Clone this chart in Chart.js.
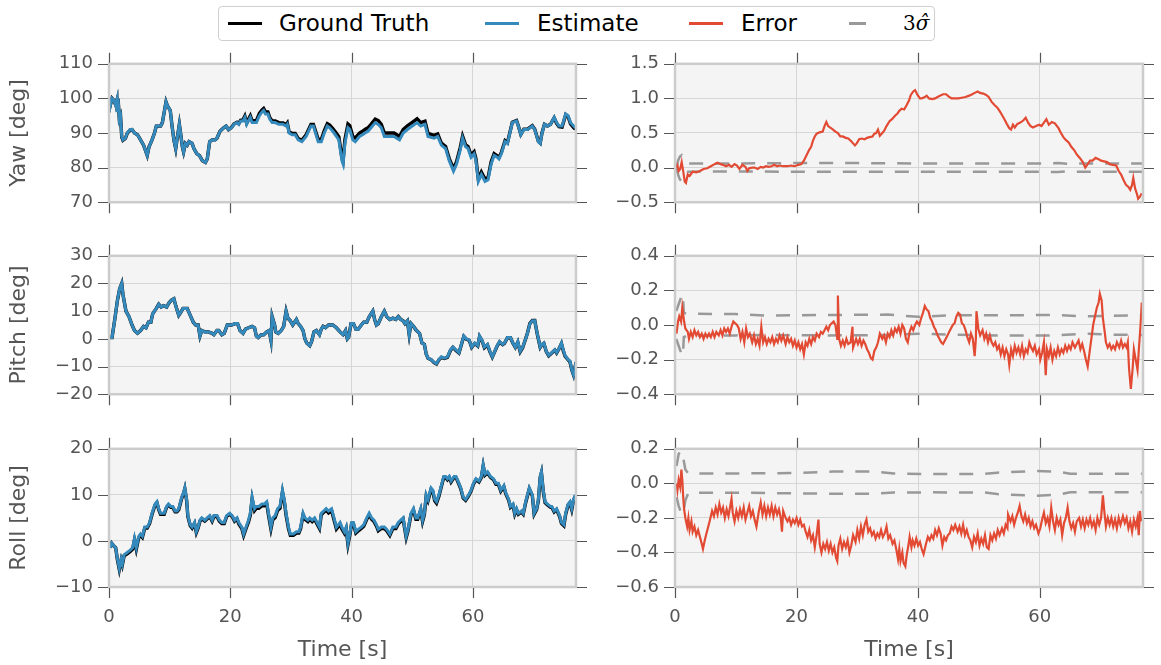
<!DOCTYPE html>
<html>
<head>
<meta charset="utf-8">
<script src="https://cdn.jsdelivr.net/npm/chart.js@4.4.1/dist/chart.umd.min.js"></script>
<style>
  body { margin: 0; background: #fff; width: 1161px; height: 665px; position: relative; overflow: hidden; font-family: "DejaVu Sans", sans-serif; }
  canvas { position: absolute; }
  #legend { position: absolute; left: 218px; top: 6px; width: 715px; height: 33px; border: 1.5px solid #cfcfcf; border-radius: 4px; background: #fff; z-index: 2; }
  .lg-line { position: absolute; top: 15px; height: 2.5px; width: 34px; }
  .lg-text { position: absolute; top: 0; line-height: 33px; font-size: 23px; color: #000; white-space: nowrap; }
</style>
</head>
<body>
<div id="legend">
  <div class="lg-line" style="left:9px;background:#000"></div>
  <span class="lg-text" style="left:60px">Ground Truth</span>
  <div class="lg-line" style="left:266px;background:#348ABD"></div>
  <span class="lg-text" style="left:318px">Estimate</span>
  <div class="lg-line" style="left:470px;background:#E24A33"></div>
  <span class="lg-text" style="left:522px">Error</span>
  <div class="lg-line" style="left:630px;width:17px;background:#999"></div>
  <span class="lg-text" style="left:684px;font-family:'DejaVu Serif';font-size:20px">3<i>σ̂</i></span>
</div>
<canvas id="yaw" width="590" height="192" style="left:0;top:37px"></canvas>
<canvas id="yawErr" width="571" height="192" style="left:590px;top:37px"></canvas>
<canvas id="pitch" width="590" height="192" style="left:0;top:229px"></canvas>
<canvas id="pitchErr" width="571" height="192" style="left:590px;top:229px"></canvas>
<canvas id="roll" width="590" height="243" style="left:0;top:422px"></canvas>
<canvas id="rollErr" width="571" height="243" style="left:590px;top:422px"></canvas>
<script>
// ---- data ----
const xTicks = [0, 20, 40, 60];

const yawTime = [
  0.2,0.3,0.5,0.8,1.1,1.3,1.35,1.5,1.7,1.9,
  2.1,2.3,2.7,3.0,3.5,3.8,4.2,4.7,5.2,5.7,
  6.0,6.3,6.6,7.1,7.5,7.8,8.5,8.8,9.2,9.4,
  9.6,10.1,10.4,10.7,11.0,11.2,11.6,11.8,12.1,12.3,
  12.6,12.9,13.2,13.7,14.0,14.5,14.9,15.4,15.9,16.2,
  16.6,17.0,17.5,17.8,18.3,18.9,19.3,19.7,20.2,20.6,
  21.1,21.4,21.7,22.1,22.4,22.7,23.0,23.3,23.6,24.3,
  24.8,25.2,25.5,25.8,26.2,26.5,26.9,27.4,28.0,28.7,
  29.2,29.4,29.7,30.2,30.7,31.2,31.8,32.5,33.3,33.7,
  34.5,35.0,35.5,36.0,36.4,36.9,37.5,37.9,38.4,38.6,
  38.9,39.4,39.7,40.2,40.6,41.3,41.8,42.2,42.7,43.2,
  43.9,44.4,44.9,45.4,46.0,47.0,47.9,48.5,49.2,50.0,
  50.8,51.4,52.1,52.6,53.6,54.2,54.8,55.5,56.1,56.8,
  57.3,57.9,58.3,58.8,59.2,59.7,60.2,60.5,60.9,61.4,
  62.0,62.5,63.0,63.5,64.0,64.3,64.7,65.3,65.7,66.1,
  66.5,67.2,67.5,67.9,68.4,69.0,69.8,70.2,70.8,71.1,
  71.4,71.8,72.3,72.8,73.4,73.8,74.2,74.7,75.3,75.7,
  76.1,76.6,76.9
];
const yawEstimate = [
  100,98.5,100,99.5,98,99.5,96,100,94,95,
  89,88,88.5,90,91,91,90,89.5,88,86.5,
  85,83.5,86,88,90,92,92,93,97,99,
  98,96.5,92,88,85.5,88,92.5,90,86,84.5,
  87,86.5,87.5,87,85.5,84,83.5,82,81.5,82.5,
  87.5,88,88,88.5,90.5,91.5,92,91,91.5,92.5,
  93,92.5,93.5,93.5,94.5,92.5,93.5,94.5,93,93,
  95,96,96.5,95.5,95.5,94,93,93,92.5,92.5,
  92,92.5,90,89.5,89.5,88,87.5,89,92,92,
  87.5,87.5,90,92,91.5,90.5,89,88,82,81,
  87,91.5,91,88,87.5,89,89.5,90,90.5,91.5,
  93,92.5,91.5,89,89,89,88,90,91,92,
  93,92,92.5,89,88.5,89,86.5,85.5,82,79,
  81,85,88.5,86,85.5,83,84,82,76,78,
  76,76.5,81,83.5,83,82.5,84,87.5,87,90,
  93,93.5,92,89.5,91,91,92,91,87.5,87,
  90,92.5,92,92.5,94.5,93,92,92,95.5,95,
  93,92,91.5
];
const yawTruth = [
  100,98.6,100,99.4,98.1,99.4,96.2,99.9,94.2,95,
  88.8,87.9,88.4,89.9,90.9,91,90,89.5,88,86.5,
  85,83.5,86,88,90,92,92,93,97,99,
  98,96.5,92,88,85.5,88,92.5,90,86,84.5,
  87,86.5,87.5,87,85.5,84,83.5,82,81.5,82.5,
  87.5,88,88,88.5,90.5,91.5,92,91,91.6,92.6,
  93.1,92.7,93.7,93.8,94.9,92.9,94,95,93.5,93.6,
  95.7,96.6,97.1,96.1,96.1,94.5,93.5,93.5,93,92.9,
  92.4,92.9,90.3,89.9,89.9,88.4,87.9,89.5,92.5,92.5,
  88.1,88.1,90.7,92.7,92.3,91.3,89.9,88.9,83,82,
  88.1,92.6,92.1,89,88.5,90,90.5,91,91.5,92.5,
  94,93.6,92.5,90,90,90,89,91,92.1,93.1,
  94.1,93,93.4,89.9,89.3,89.7,87.1,86.1,82.6,79.7,
  81.7,85.7,89.1,86.6,86.1,83.6,84.6,82.6,76.6,78.7,
  76.7,77.1,81.6,84,83.4,82.9,84.4,87.8,87.2,90.2,
  93.1,93.6,92,89.6,91.1,91.1,92.1,91.1,87.6,87.1,
  90.1,92.5,92,92.5,94.4,92.8,91.8,91.7,95.3,94.7,
  92.6,91.6,91.1
];

const pitchTime = [
  0.2,0.5,0.95,1.4,1.75,2.1,2.3,2.8,3.3,3.8,
  4.2,4.7,5.2,5.7,6.1,6.5,6.9,7.2,7.8,8.2,
  8.6,9.0,9.5,9.9,10.3,10.7,11.0,11.5,11.8,12.2,
  12.6,12.9,13.4,13.9,14.3,14.7,15.0,15.3,15.8,16.4,
  17.0,17.3,17.8,18.1,18.6,19.0,19.5,20.2,20.8,21.2,
  21.6,22.1,22.5,23.0,23.6,24.0,24.3,24.6,25.1,25.5,
  26.0,26.4,26.7,26.9,27.3,27.5,27.9,28.4,28.8,29.2,
  29.5,29.9,30.3,30.6,30.9,31.2,31.6,32.0,32.3,32.6,
  33.1,33.4,33.8,34.2,34.7,35.0,35.3,35.7,36.2,36.9,
  37.5,38.1,38.6,39.0,39.3,39.5,39.9,40.3,40.7,41.1,
  41.6,42.0,42.5,42.9,43.2,43.5,43.8,44.1,44.4,44.9,
  45.4,45.8,46.3,46.8,47.3,47.7,48.1,48.5,48.8,49.2,
  49.5,49.8,50.2,50.7,51.2,51.6,52.0,52.3,52.6,53.1,
  53.6,54.0,54.4,54.8,55.3,55.8,56.3,56.7,57.2,57.7,
  58.1,58.5,58.9,59.4,59.8,60.3,60.8,61.1,61.5,61.9,
  62.4,62.8,63.2,63.6,64.0,64.4,64.9,65.2,65.7,66.2,
  66.6,67.0,67.4,67.8,68.2,68.7,69.0,69.4,69.8,70.2,
  70.6,71.1,71.4,71.7,72.1,72.5,73.0,73.5,73.8,74.2,
  74.6,74.9,75.2,75.7,76.0,76.3,76.6,76.8,77.0
];
const pitchEstimate = [
  0.5,0.5,7,14,18,20,16,10,8,5,
  3,2,3,4.5,4,6,6,9,11,12.5,
  11.5,12,11.5,13,14,14.5,12,8.5,9.5,11,
  11,11,8.5,6,5,5,1,3,2.5,2.5,
  2,1.5,3,3,1.5,2,5,5,5.5,5.5,
  3,2,3.5,4,4.5,4,1,0.5,1.5,1.5,
  2.5,3,-0.5,8,5,2.5,2,3,4.5,10,
  7.5,6.5,5,6,7,5.5,4.5,3,0,-1.5,
  -2.5,-1,2.5,3,1.5,3.5,4.5,4,5,5,
  4,2.5,1.5,3,0,0.5,5.5,5.5,3.5,3.5,
  5,6,6,8,9,10,7,5,5.5,8,
  10,8,7,7.5,7,8,7,6.5,5.5,6.5,
  1.5,5.5,4.5,3,2,-1.5,-2,-5.5,-7,-7.5,
  -8.5,-9,-7.5,-6.5,-7,-6.5,-4,-3,-4,-5,
  -2,1,0,-0.5,-3,-1.5,-2.5,1,-0.5,-3,
  -2,-4.5,-6.5,-4.5,-2.5,-1,-2,-1.5,0.5,0.5,
  -1.5,-3,-1,-4.5,-3,0,2,5.5,6.5,6.5,
  2,-3,-2,-1.5,-4.5,-6,-5,-4,-5,-3.5,
  -1.5,-4,-6,-7.5,-8,-11,-13,-11,-8.5
];
const pitchTruth = [
  0.5,0.5,7,14,18,20,16,10,8,5,
  3,2,3,4.5,4,6,6,9,11,12.5,
  11.5,12,11.5,13,14,14.5,12,8.5,9.5,11,
  11,11,8.5,6,5,5,1,3,2.5,2.5,
  2,1.5,3,3,1.5,2,5,5,5.5,5.5,
  3,2,3.5,4,4.5,4,1,0.5,1.5,1.5,
  2.5,3,-0.5,8,5,2.5,2,3,4.5,10,
  7.5,6.5,5,6,7,5.5,4.5,3,0,-1.5,
  -2.5,-1,2.5,3,1.5,3.5,4.5,4,5,5,
  4,2.5,1.5,3,0,0.5,5.5,5.5,3.5,3.5,
  5,6,6,8,9,10,7,5,5.5,8,
  10,8,7,7.5,7,8,7,6.5,5.5,6.5,
  1.5,5.5,4.5,3,2,-1.5,-2,-5.5,-7,-7.5,
  -8.6,-9.1,-7.6,-6.7,-7.1,-6.7,-4.2,-3.1,-4.2,-5.1,
  -2.1,0.9,-0.1,-0.6,-3.1,-1.7,-2.6,0.8,-0.7,-3.2,
  -2.2,-4.6,-6.6,-4.6,-2.6,-1.1,-2.1,-1.6,0.4,0.4,
  -1.6,-3.1,-1.2,-4.7,-3.2,0,2.1,5.6,6.6,6.6,
  1.9,-3.1,-2.1,-1.6,-4.6,-6.1,-5.1,-4.1,-5.1,-3.6,
  -1.7,-4.3,-6.3,-7.6,-8.3,-11.2,-13.1,-11,-8.4
];

const rollTime = [
  0.2,0.45,0.75,1.1,1.4,1.7,2.0,2.2,2.5,3.0,
  3.5,3.9,4.2,4.5,4.9,5.2,5.5,5.9,6.3,6.7,
  7.1,7.6,7.9,8.2,8.5,8.8,9.1,9.5,9.8,10.2,
  10.5,10.9,11.2,11.5,12.0,12.3,12.5,12.8,13.0,13.4,
  13.7,14.1,14.4,14.7,15.0,15.3,15.8,16.2,16.6,17.0,
  17.3,17.8,18.2,18.6,19.0,19.4,19.9,20.3,20.7,21.1,
  21.4,21.9,22.2,22.6,23.0,23.3,23.6,24.0,24.3,24.7,
  25.2,25.6,26.0,26.3,26.7,27.0,27.4,27.8,28.2,28.6,
  28.9,29.2,29.6,29.9,30.4,30.9,31.3,31.6,32.0,32.3,
  32.8,33.1,33.5,33.9,34.3,34.7,35.0,35.4,35.8,36.2,
  36.7,37.1,37.5,37.8,38.1,38.4,38.8,39.1,39.4,39.7,
  40.0,40.3,40.7,41.1,41.6,42.0,42.5,42.9,43.3,43.7,
  44.1,44.4,44.9,45.4,45.8,46.3,46.8,47.3,47.7,48.1,
  48.5,49.0,49.3,49.8,50.2,50.6,50.9,51.4,51.7,52.0,
  52.3,52.6,53.1,53.4,53.7,54.0,54.4,54.8,55.2,55.5,
  55.8,56.1,56.4,56.9,57.2,57.7,58.0,58.4,58.8,59.3,
  59.7,60.1,60.5,61.0,61.4,61.7,62.0,62.4,62.9,63.4,
  63.8,64.2,64.6,65.1,65.4,65.9,66.2,66.6,66.9,67.2,
  67.5,68.0,68.3,68.7,69.0,69.3,69.8,70.1,70.5,70.8,
  71.1,71.3,71.6,71.9,72.3,72.8,73.0,73.4,73.8,74.3,
  74.6,75.0,75.3,75.7,76.0,76.3,76.6,76.9
];
const rollEstimate = [
  -1.5,-0.5,-1,-1.5,-4,-6,-4,-5,-3,-2.5,
  -2,-1.5,0.5,-1.5,1,1.5,1,3,3,4,
  6,8,8.5,7,6,6,6,7.5,8,7.5,
  7.5,6.5,6.5,7,9.5,10.5,11.5,9,5.5,3.5,
  3,4,2,3,4.5,5,4.5,5,5.5,4.5,
  5.5,5.5,4.5,4,4,5.5,6,5.5,4.5,5,
  4,3,1.5,3,4.5,6,9.5,7,7.5,7.5,
  8,8,8.5,6,3,5,5.5,7,7.5,11,
  9,6,3,1.5,1.5,2,2,3,6,5,
  4.5,5,4.5,5,4,3,6,6.5,7,6.5,
  7,5,3,3.5,4,3,2,3,-0.5,1.5,
  4,4,2,2.5,3,3.5,5,6,5,4.5,
  3.5,2.5,3,3,2.5,1.5,3,3,4,4.5,
  5,1,2.5,6,7,5,5,7,4.5,6,
  10,9,11.5,11,9,8.5,10,12,14,14,
  13.5,14,13,14,14,12.5,11.5,9.5,9,10,
  11,12.5,13.5,13,14,16.5,14.5,15,14,13.5,
  12.5,12.5,11,12,10.5,9,7.5,8,6,7,
  6,6.5,6,8.5,10,11.5,10,6,7,9,
  14,15,11,8.5,8,7.5,7.5,6.5,7,5.5,
  4,3.5,6,8,8.5,7,9,10
];
const rollTruth = [
  -1.5,-0.5,-1,-1.5,-4.2,-6.2,-4.2,-5.2,-3.2,-2.8,
  -2.3,-1.8,0.2,-1.8,0.7,1.2,0.75,2.8,2.8,3.8,
  5.8,7.8,8.3,6.8,5.8,5.8,5.8,7.3,7.8,7.3,
  7.3,6.3,6.3,6.8,9.3,10.3,11.3,8.8,5.3,3.3,
  2.8,3.8,1.8,2.8,4.3,4.8,4.3,4.8,5.3,4.3,
  5.3,5.3,4.3,3.8,3.8,5.3,5.8,5.3,4.3,4.8,
  3.7,2.7,1.2,2.7,4.1,5.6,9.1,6.6,7.1,7.1,
  7.6,7.6,8.1,5.6,2.6,4.6,5.1,6.6,7.1,10.6,
  8.6,5.6,2.6,1.2,1.2,1.7,1.7,2.7,5.7,4.7,
  4.2,4.7,4.2,4.7,3.7,2.7,5.7,6.2,6.7,6.1,
  6.6,4.6,2.6,3.1,3.6,2.6,1.7,2.7,-0.8,1.2,
  3.7,3.7,1.7,2.2,2.7,3.2,4.7,5.7,4.7,4.2,
  3.2,2.2,2.7,2.7,2.2,1.2,2.7,2.7,3.7,4.2,
  4.7,0.7,2.2,5.7,6.7,4.7,4.7,6.7,4.2,5.7,
  9.7,8.7,11.2,10.7,8.7,8.2,9.7,11.8,13.8,13.8,
  13.3,13.8,12.8,13.8,13.8,12.3,11.3,9.3,8.8,9.8,
  10.8,12.3,13.3,12.8,13.8,16.3,14.3,14.8,13.8,13.3,
  12.3,12.3,10.8,11.8,10.3,8.8,7.3,7.8,5.8,6.8,
  5.8,6.3,5.8,8.3,9.8,11.3,9.8,5.8,6.8,8.8,
  13.8,14.8,10.8,8.3,7.8,7.3,7.3,6.3,6.8,5.3,
  3.8,3.3,5.8,7.8,8.3,6.8,8.8,9.8
];

const yawErrTime = [
  0.25,0.4,0.6,0.85,1.1,1.35,1.6,1.8,2.1,2.4,
  2.9,3.5,4.1,4.7,5.3,5.9,6.5,7.0,7.5,7.9,
  8.4,8.9,9.3,9.8,10.2,10.6,11.1,11.6,11.9,12.2,
  12.7,13.1,13.6,14.1,14.5,15.0,15.4,15.9,16.3,16.8,
  17.2,17.8,18.5,19.1,19.7,20.3,20.8,21.2,21.6,22.1,
  22.4,22.7,23.0,23.3,23.8,24.3,24.6,24.9,25.2,25.5,
  26.0,26.4,26.8,27.2,27.6,28.1,28.5,29.0,29.3,29.6,
  29.9,30.3,30.7,31.2,31.6,32.0,32.5,32.8,33.1,33.4,
  33.7,34.1,34.4,34.8,35.3,35.7,36.2,36.6,36.9,37.3,
  37.7,38.1,38.5,38.8,39.2,39.5,39.9,40.3,40.6,41.1,
  41.4,41.8,42.3,42.8,43.2,43.6,44.1,44.6,45.0,45.5,
  46.0,46.6,47.2,47.8,48.4,48.9,49.3,49.8,50.2,50.7,
  51.2,51.6,52.1,52.6,53.0,53.4,53.8,54.2,54.6,55.0,
  55.3,55.6,55.9,56.3,56.8,57.3,57.7,58.1,58.5,58.9,
  59.4,59.9,60.3,60.7,61.1,61.5,62.0,62.5,63.1,63.5,
  63.9,64.3,64.8,65.2,65.7,66.1,66.6,67.1,67.5,67.9,
  68.3,68.7,69.2,69.7,70.1,70.6,71.1,71.5,72.0,72.6,
  73.0,73.4,73.8,74.2,74.6,74.9,75.2,75.4,75.7,76.0,
  76.2,76.5,76.8
];
const yawError = [
  0,0.03,-0.05,-0.02,0.08,-0.05,-0.2,-0.22,-0.1,-0.12,
  -0.06,-0.07,-0.05,-0.02,-0.01,0.02,0.05,0.07,0.05,0.04,
  0.02,0.04,0.01,0.05,0.03,-0.02,0.04,0.01,-0.05,-0.01,
  0,0,-0.02,0.01,0,0.02,0.01,0.02,0.04,0.02,
  0.03,0.02,0.02,0.03,0.02,0.04,0.05,0.1,0.17,0.26,
  0.3,0.39,0.45,0.49,0.51,0.52,0.6,0.66,0.6,0.58,
  0.55,0.52,0.5,0.45,0.45,0.43,0.42,0.38,0.35,0.32,
  0.35,0.41,0.42,0.41,0.43,0.44,0.45,0.49,0.5,0.55,
  0.46,0.5,0.53,0.6,0.67,0.7,0.75,0.78,0.82,0.85,
  0.84,0.9,0.97,1.05,1.1,1.12,1.05,1.0,1.0,1.02,
  1.04,1.0,0.99,1.0,1.02,1.04,1.06,1.06,1.03,1.0,
  1.0,1.0,1.01,1.02,1.04,1.06,1.08,1.1,1.08,1.07,
  1.05,1.02,0.95,0.9,0.87,0.82,0.76,0.7,0.63,0.57,
  0.55,0.62,0.58,0.63,0.65,0.68,0.72,0.65,0.6,0.58,
  0.6,0.62,0.6,0.65,0.7,0.62,0.66,0.64,0.57,0.5,
  0.44,0.4,0.36,0.3,0.25,0.19,0.14,0.08,0.0,0.05,
  0.1,0.1,0.14,0.12,0.1,0.09,0.08,0.05,0.04,0.03,
  -0.05,-0.1,-0.18,-0.25,-0.28,-0.32,-0.25,-0.15,-0.3,-0.38,
  -0.45,-0.42,-0.37
];
const yawSigmaTime = [0.25,0.5,0.8,1.1,1.4,1.8,2.2,5,10,20,30,40,50,60,63,64.5,66,70,77];
const yawSigmaUpper = [0,0.1,0.16,0.18,0.12,0.07,0.06,0.06,0.06,0.065,0.065,0.06,0.06,0.06,0.065,0.055,0.06,0.06,0.06];
const yawSigmaLower = [0,-0.1,-0.17,-0.2,-0.13,-0.07,-0.06,-0.055,-0.055,-0.06,-0.06,-0.06,-0.06,-0.06,-0.065,-0.055,-0.06,-0.06,-0.06];

const pitchErrTime = [
  0.25,0.5,0.7,1.0,1.2,1.5,1.7,2.1,2.3,2.6,
  2.9,3.2,3.5,3.8,4.1,4.4,4.7,5.0,5.3,5.6,
  5.9,6.2,6.5,6.8,7.2,7.5,7.8,8.1,8.4,8.7,
  9.0,9.3,9.6,9.9,10.2,10.5,10.8,11.1,11.4,11.7,
  12.0,12.3,12.7,13.0,13.3,13.6,13.9,14.2,14.5,14.8,
  15.1,15.4,15.7,16.0,16.3,16.6,16.9,17.2,17.5,17.8,
  18.2,18.5,18.8,19.1,19.4,19.7,20.0,20.3,20.6,20.9,
  21.2,21.5,21.8,22.1,22.4,22.7,23.0,23.3,23.7,24.0,
  24.3,24.6,24.9,25.2,25.5,25.8,26.1,26.4,26.7,26.8,
  27.0,27.3,27.6,27.9,28.2,28.5,28.9,29.2,29.3,29.8,
  30.1,30.4,30.7,31.0,31.3,31.6,31.9,32.2,32.5,32.8,
  33.1,33.4,33.7,34.1,34.4,34.7,35.0,35.3,35.6,35.9,
  36.2,36.5,36.8,37.1,37.4,37.7,38.0,38.3,38.6,38.9,
  39.2,39.5,39.8,40.2,40.5,40.8,41.1,41.4,41.7,42.0,
  42.3,42.6,42.9,43.2,43.5,43.8,44.1,44.4,44.7,45.1,
  45.4,45.7,46.0,46.3,46.6,46.9,47.2,47.5,47.8,48.1,
  48.4,48.7,49.0,49.3,49.5,49.6,49.9,50.2,50.6,50.9,
  51.2,51.5,51.8,52.1,52.4,52.7,53.0,53.3,53.6,53.9,
  54.2,54.5,54.8,55.0,55.3,55.6,55.9,56.2,56.5,56.8,
  57.1,57.4,57.7,58.0,58.3,58.6,58.9,59.2,59.5,59.9,
  60.1,60.4,60.7,61.0,61.2,61.5,61.8,62.1,62.4,62.7,
  63.0,63.3,63.6,63.9,64.2,64.5,64.8,65.1,65.4,65.8,
  66.1,66.4,66.7,67.0,67.3,67.6,67.9,68.2,68.5,68.8,
  69.1,69.4,69.7,69.9,70.2,70.4,70.7,70.9,71.2,71.5,
  71.8,72.1,72.4,72.7,73.1,73.4,73.7,74.0,74.3,74.5,
  74.7,75.0,75.3,75.5,75.8,76.1,76.3,76.6,76.8
];
const pitchError = [
  -0.05,0.02,0.05,0.02,0.1,0.02,-0.02,-0.04,-0.08,-0.04,
  -0.07,-0.03,-0.06,-0.04,-0.07,-0.05,-0.08,-0.05,-0.07,-0.05,
  -0.07,-0.04,-0.07,-0.04,-0.06,-0.03,-0.06,-0.02,-0.04,-0.02,
  -0.05,-0.01,0.02,0.01,0,-0.02,-0.08,-0.04,-0.1,-0.02,
  -0.07,-0.05,-0.1,-0.06,-0.11,-0.08,-0.12,-0.01,-0.1,-0.07,
  -0.11,-0.08,-0.1,-0.07,-0.11,-0.08,-0.1,-0.06,-0.09,-0.06,
  -0.11,-0.07,-0.1,-0.08,-0.12,-0.09,-0.13,-0.1,-0.14,-0.11,
  -0.17,-0.1,-0.12,-0.08,-0.11,-0.07,-0.09,-0.05,-0.07,-0.04,
  -0.05,-0.03,-0.01,-0.03,0,0.01,0.02,0,-0.08,0.17,
  -0.08,-0.12,-0.09,-0.12,-0.08,-0.11,-0.1,-0.01,-0.13,-0.08,
  -0.11,-0.08,-0.12,-0.09,-0.11,-0.14,-0.16,-0.19,-0.2,-0.15,
  -0.13,-0.1,-0.05,-0.08,-0.06,-0.1,-0.05,-0.07,-0.03,-0.06,
  -0.02,-0.04,-0.01,-0.05,0,-0.02,-0.08,-0.1,-0.04,-0.01,
  -0.03,0,0.02,0,0.04,0.07,0.11,0.09,0.08,0.04,
  0.02,-0.01,-0.03,-0.06,-0.08,-0.1,-0.11,-0.09,-0.07,-0.04,
  -0.02,0,0.01,0.05,0.07,0.06,0.01,0,-0.03,-0.07,
  -0.1,-0.05,-0.08,-0.18,-0.08,0.08,-0.02,-0.06,-0.03,-0.08,
  -0.05,-0.1,-0.06,-0.1,-0.12,-0.1,-0.14,-0.12,-0.17,-0.13,
  -0.18,-0.14,-0.17,-0.23,-0.14,-0.18,-0.12,-0.16,-0.13,-0.17,
  -0.12,-0.18,-0.14,-0.16,-0.1,-0.13,-0.15,-0.12,-0.17,-0.14,
  -0.2,-0.16,-0.1,-0.29,-0.14,-0.18,-0.13,-0.2,-0.15,-0.18,
  -0.13,-0.17,-0.14,-0.16,-0.12,-0.15,-0.12,-0.14,-0.1,-0.13,
  -0.11,-0.09,-0.14,-0.11,-0.15,-0.2,-0.24,-0.16,-0.08,0,
  0.05,0.1,0.13,0.18,0.14,0.04,-0.04,-0.1,-0.13,-0.11,
  -0.14,-0.12,-0.14,-0.1,-0.13,-0.09,-0.13,-0.11,-0.13,-0.1,
  -0.25,-0.37,-0.25,-0.14,-0.2,-0.26,-0.15,0,0.13
];
const pitchSigmaTime = [0.2,0.6,1.0,1.3,1.45,2,10,15,25,35,40,45,55,62,68,72,77];
const pitchSigmaUpper = [0.08,0.12,0.16,0.18,0.07,0.065,0.063,0.055,0.058,0.06,0.047,0.056,0.056,0.058,0.05,0.054,0.056];
const pitchSigmaLower = [-0.08,-0.12,-0.16,-0.18,-0.07,-0.06,-0.06,-0.058,-0.06,-0.058,-0.05,-0.056,-0.061,-0.061,-0.05,-0.056,-0.058];

const rollErrTime = [
  0.25,0.4,0.6,0.85,1.05,1.2,1.35,1.5,1.7,2.0,
  2.2,2.4,2.7,2.9,3.2,3.5,3.8,4.1,4.4,4.6,
  4.9,5.1,5.4,5.7,6.1,6.4,6.7,7.0,7.3,7.6,
  7.9,8.2,8.5,8.8,9.1,9.3,9.5,9.8,10.1,10.4,
  10.7,11.0,11.3,11.6,11.9,12.2,12.5,12.8,13.1,13.4,
  13.8,14.1,14.4,14.7,15.0,15.3,15.6,15.9,16.2,16.5,
  16.8,17.1,17.4,17.6,17.8,18.2,18.5,18.8,19.1,19.4,
  19.7,20.0,20.3,20.6,20.9,21.2,21.5,21.8,22.1,22.4,
  22.7,23.0,23.3,23.6,23.8,24.1,24.4,24.7,25.0,25.3,
  25.6,25.9,26.2,26.5,26.7,26.9,27.2,27.5,27.8,28.1,
  28.4,28.7,29.0,29.3,29.7,30.0,30.3,30.6,30.9,31.2,
  31.5,31.8,32.1,32.4,32.7,33.0,33.3,33.6,33.9,34.2,
  34.5,34.8,35.1,35.4,35.8,36.1,36.4,36.7,36.9,37.1,
  37.4,37.6,37.9,38.1,38.4,38.6,38.9,39.1,39.4,39.7,
  40.0,40.3,40.6,40.9,41.3,41.6,41.9,42.2,42.5,42.8,
  43.1,43.4,43.7,44.0,44.3,44.6,44.9,45.2,45.5,45.8,
  46.1,46.5,46.8,47.1,47.4,47.7,48.0,48.3,48.6,48.9,
  49.2,49.5,49.8,50.1,50.4,50.7,51.0,51.3,51.6,51.9,
  52.2,52.5,52.8,53.1,53.4,53.8,54.1,54.4,54.7,54.8,
  55.2,55.5,55.8,56.1,56.4,56.7,57.0,57.3,57.6,57.9,
  58.2,58.5,58.8,59.1,59.4,59.8,60.1,60.4,60.7,61.0,
  61.3,61.6,61.9,62.2,62.5,62.8,63.1,63.4,63.7,64.0,
  64.3,64.6,64.9,65.2,65.5,65.8,66.1,66.5,66.8,67.1,
  67.4,67.7,68.0,68.3,68.6,68.9,69.2,69.5,69.8,70.1,
  70.4,70.6,70.9,71.2,71.5,71.8,72.1,72.4,72.7,73.0,
  73.3,73.7,74.0,74.3,74.6,74.9,75.2,75.5,75.8,76.1,
  76.3,76.5,76.7
];
const rollError = [
  0,-0.04,0.02,-0.02,0.08,0.02,-0.08,-0.15,-0.2,-0.25,
  -0.2,-0.27,-0.22,-0.28,-0.25,-0.3,-0.27,-0.31,-0.35,-0.38,
  -0.33,-0.3,-0.26,-0.22,-0.16,-0.19,-0.14,-0.18,-0.12,-0.17,
  -0.14,-0.2,-0.15,-0.19,-0.13,-0.09,-0.17,-0.22,-0.16,-0.2,
  -0.15,-0.19,-0.14,-0.21,-0.17,-0.13,-0.19,-0.16,-0.21,-0.25,
  -0.16,-0.11,-0.18,-0.13,-0.19,-0.14,-0.18,-0.13,-0.19,-0.14,
  -0.18,-0.15,-0.2,-0.28,-0.16,-0.2,-0.22,-0.2,-0.24,-0.21,
  -0.23,-0.2,-0.24,-0.21,-0.25,-0.24,-0.28,-0.31,-0.27,-0.33,
  -0.3,-0.37,-0.3,-0.21,-0.35,-0.4,-0.35,-0.38,-0.34,-0.39,
  -0.35,-0.4,-0.37,-0.43,-0.45,-0.36,-0.32,-0.38,-0.34,-0.37,
  -0.33,-0.4,-0.36,-0.3,-0.34,-0.27,-0.32,-0.25,-0.3,-0.24,
  -0.21,-0.28,-0.26,-0.3,-0.28,-0.32,-0.29,-0.31,-0.27,-0.31,
  -0.29,-0.25,-0.32,-0.3,-0.35,-0.33,-0.38,-0.44,-0.38,-0.45,
  -0.4,-0.46,-0.48,-0.42,-0.36,-0.31,-0.37,-0.33,-0.36,-0.32,
  -0.36,-0.34,-0.38,-0.41,-0.35,-0.31,-0.33,-0.3,-0.32,-0.27,
  -0.3,-0.26,-0.29,-0.36,-0.31,-0.33,-0.3,-0.29,-0.25,-0.27,
  -0.24,-0.28,-0.25,-0.29,-0.24,-0.3,-0.27,-0.31,-0.33,-0.37,
  -0.31,-0.34,-0.29,-0.36,-0.32,-0.35,-0.3,-0.37,-0.38,-0.3,
  -0.33,-0.29,-0.32,-0.27,-0.3,-0.26,-0.29,-0.24,-0.26,-0.18,
  -0.22,-0.19,-0.24,-0.2,-0.17,-0.13,-0.19,-0.22,-0.18,-0.23,
  -0.2,-0.25,-0.22,-0.26,-0.24,-0.29,-0.26,-0.21,-0.17,-0.23,
  -0.2,-0.25,-0.14,-0.22,-0.27,-0.2,-0.24,-0.21,-0.3,-0.23,
  -0.2,-0.14,-0.22,-0.26,-0.23,-0.28,-0.22,-0.2,-0.25,-0.21,
  -0.26,-0.21,-0.24,-0.2,-0.25,-0.22,-0.27,-0.2,-0.24,-0.2,
  -0.07,-0.15,-0.25,-0.2,-0.24,-0.2,-0.25,-0.21,-0.26,-0.2,
  -0.24,-0.19,-0.23,-0.2,-0.26,-0.22,-0.28,-0.21,-0.25,-0.2,
  -0.3,-0.16,-0.22
];
const rollSigmaTime = [0.25,0.6,1.0,1.35,1.7,2.2,10,20,26,33,36,42,51,53,59.4,63,65,70,77];
const rollSigmaUpper = [0.1,0.17,0.19,0.15,0.08,0.057,0.057,0.06,0.068,0.068,0.057,0.054,0.055,0.062,0.072,0.068,0.055,0.056,0.056];
const rollSigmaLower = [-0.08,-0.13,-0.17,-0.18,-0.1,-0.055,-0.054,-0.058,-0.06,-0.06,-0.053,-0.052,-0.053,-0.062,-0.072,-0.066,-0.052,-0.052,-0.052];

const yawTicks = [70, 80, 90, 100, 110];
const pitchTicks = [-20, -10, 0, 10, 20, 30];
const rollTicks = [-10, 0, 10, 20];
const yawErrTicks = [-0.5, 0, 0.5, 1.0, 1.5];
const pitchErrTicks = [-0.4, -0.2, 0, 0.2, 0.4];
const rollErrTicks = [-0.6, -0.4, -0.2, 0, 0.2];

// ---- styling ----
const BLUE = '#348ABD', RED = '#E24A33', GRAY = '#999999', TXT = '#555555';
Chart.defaults.font.family = "'DejaVu Sans'";

function pts(times, values) {
  return times.map((t, i) => ({ x: t, y: values[i] }));
}

function fmt(decimals) {
  return v => (v < 0 ? '\u2212' : '') + Math.abs(v).toFixed(decimals);
}

// background, frame and outward tick marks like the matplotlib axes
const axesPlugin = {
  id: 'axesFrame',
  beforeDraw(chart) {
    const a = chart.chartArea, ctx = chart.ctx;
    ctx.save();
    ctx.fillStyle = '#f4f4f4';
    ctx.fillRect(a.left, a.top, a.right - a.left, a.bottom - a.top);
    ctx.restore();
  },
  afterDraw(chart) {
    const a = chart.chartArea, ctx = chart.ctx;
    const xs = chart.scales.x, ys = chart.scales.y;
    ctx.save();
    ctx.strokeStyle = '#cccccc';
    ctx.lineWidth = 2.5;
    ctx.strokeRect(a.left, a.top, a.right - a.left, a.bottom - a.top);
    ctx.strokeStyle = TXT;
    ctx.lineWidth = 1.2;
    ctx.beginPath();
    xs.ticks.forEach(t => {
      const p = Math.round(xs.getPixelForValue(t.value)) + 0.5;
      ctx.moveTo(p, a.top - 1); ctx.lineTo(p, a.top - 11);
      ctx.moveTo(p, a.bottom + 1); ctx.lineTo(p, a.bottom + 11);
    });
    ys.ticks.forEach(t => {
      const p = Math.round(ys.getPixelForValue(t.value)) + 0.5;
      ctx.moveTo(a.left - 1, p); ctx.lineTo(a.left - 11, p);
      ctx.moveTo(a.right + 1, p); ctx.lineTo(a.right + 11, p);
    });
    ctx.stroke();
    ctx.restore();
  }
};

function makeChart(id, cfg) {
  const left = cfg.column === 0;
  return new Chart(document.getElementById(id), {
    type: 'line',
    data: { datasets: cfg.datasets },
    options: {
      responsive: false,
      animation: false,
      events: [],
      layout: { padding: { top: 19, right: left ? 14 : 18, left: 0, bottom: 0 } },
      plugins: { legend: { display: false }, tooltip: { enabled: false } },
      elements: { point: { radius: 0 }, line: { tension: 0 } },
      scales: {
        x: {
          type: 'linear', min: 0, max: 77,
          afterBuildTicks: s => { s.ticks = xTicks.map(v => ({ value: v })); },
          afterFit: s => { s.height = cfg.bottom ? 78 : 12; },
          grid: { color: '#d6d6d6', lineWidth: 1, drawTicks: false },
          border: { display: false },
          ticks: { display: !!cfg.bottom, color: TXT, font: { size: 18 }, padding: 20, maxRotation: 0 },
          title: { display: !!cfg.bottom, text: 'Time [s]', color: TXT, font: { size: 22 }, padding: { top: 0, bottom: 2 } }
        },
        y: {
          type: 'linear', min: cfg.ticks[0], max: cfg.ticks[cfg.ticks.length - 1],
          afterBuildTicks: s => { s.ticks = cfg.ticks.map(v => ({ value: v })); },
          afterFit: s => { s.width = left ? 109 : 85; },
          grid: { color: '#d6d6d6', lineWidth: 1, drawTicks: false },
          border: { display: false },
          ticks: { color: TXT, font: { size: 18 }, padding: 16, callback: fmt(cfg.decimals) },
          title: { display: !!cfg.label, text: cfg.label || '', color: TXT, font: { size: 22 }, padding: { top: 6, bottom: 0 } }
        }
      }
    },
    plugins: [axesPlugin]
  });
}

function angleSets(time, est, truth) {
  return [
    { data: pts(time, est), borderColor: BLUE, borderWidth: 3 },
    { data: pts(time, truth), borderColor: '#000', borderWidth: 3.4 }
  ];
}
function errorSets(time, err, sTime, up, low) {
  const dash = { borderColor: GRAY, borderWidth: 2.5, borderDash: [14, 12] };
  return [
    { data: pts(time, err), borderColor: RED, borderWidth: 2.2 },
    Object.assign({ data: pts(sTime, up) }, dash),
    Object.assign({ data: pts(sTime, low) }, dash)
  ];
}

makeChart('yaw', { column: 0, ticks: yawTicks, decimals: 0, label: 'Yaw [deg]',
  datasets: angleSets(yawTime, yawEstimate, yawTruth) });
makeChart('pitch', { column: 0, ticks: pitchTicks, decimals: 0, label: 'Pitch [deg]',
  datasets: angleSets(pitchTime, pitchEstimate, pitchTruth) });
makeChart('roll', { column: 0, ticks: rollTicks, decimals: 0, label: 'Roll [deg]', bottom: true,
  datasets: angleSets(rollTime, rollEstimate, rollTruth) });
makeChart('yawErr', { column: 1, ticks: yawErrTicks, decimals: 1,
  datasets: errorSets(yawErrTime, yawError, yawSigmaTime, yawSigmaUpper, yawSigmaLower) });
makeChart('pitchErr', { column: 1, ticks: pitchErrTicks, decimals: 1,
  datasets: errorSets(pitchErrTime, pitchError, pitchSigmaTime, pitchSigmaUpper, pitchSigmaLower) });
makeChart('rollErr', { column: 1, ticks: rollErrTicks, decimals: 1, bottom: true,
  datasets: errorSets(rollErrTime, rollError, rollSigmaTime, rollSigmaUpper, rollSigmaLower) });
</script>
</body>
</html>
